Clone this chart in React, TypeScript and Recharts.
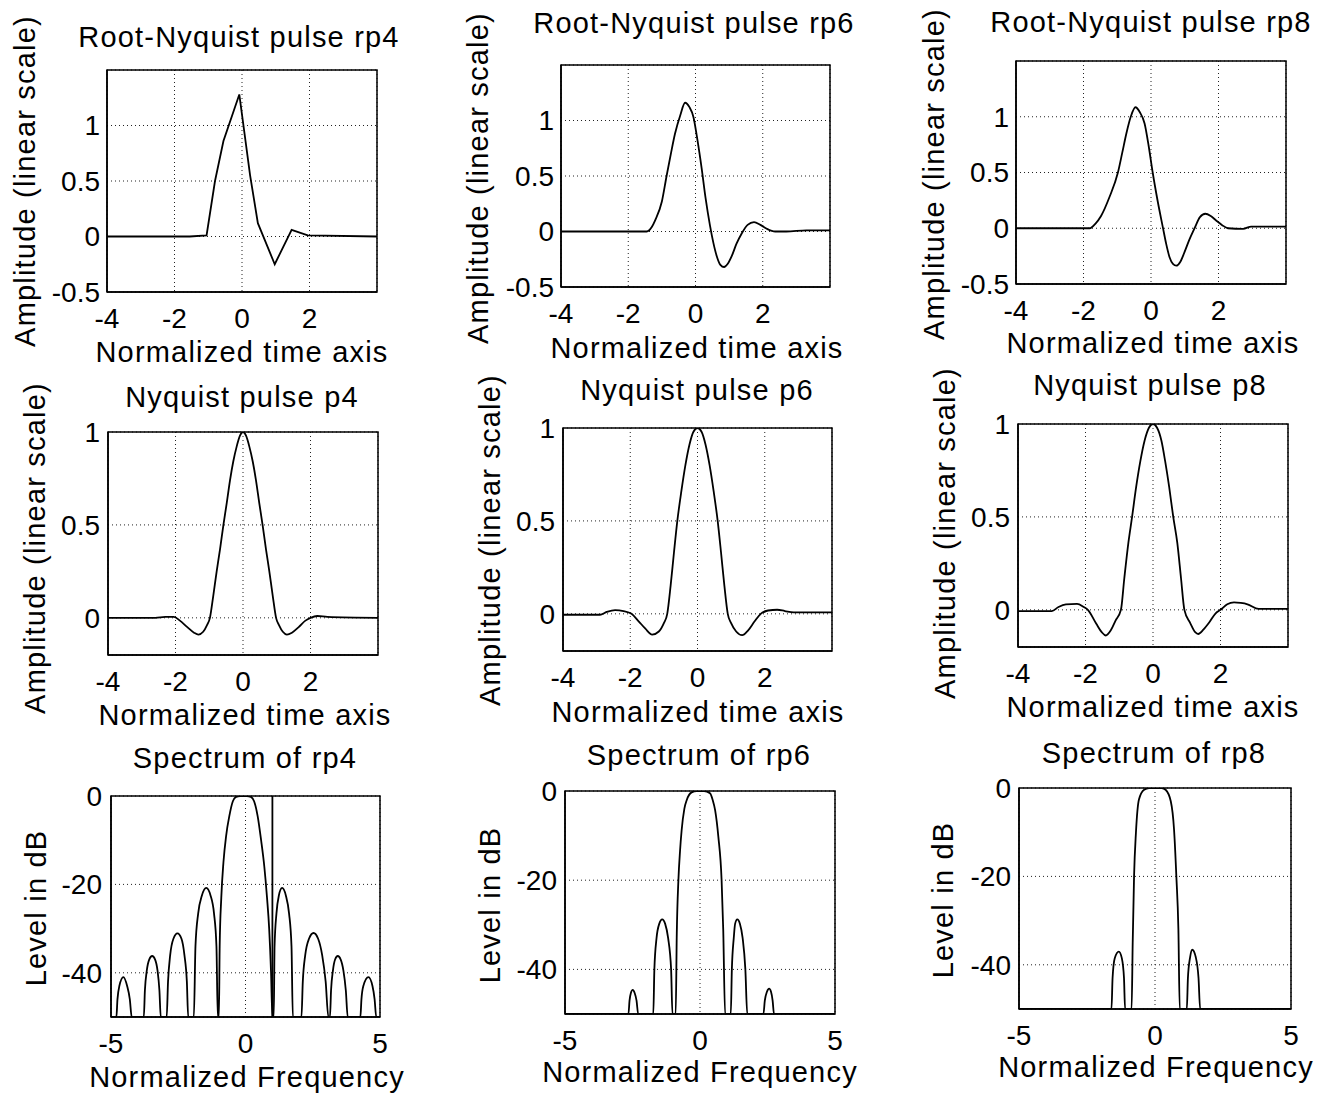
import React from 'react';
import { LineChart, Line, XAxis, YAxis, CartesianGrid, ReferenceArea } from 'recharts';

const FONT = '"Liberation Sans", Arial, Helvetica, sans-serif';

// ---------- tick labels ----------
const timeTicks = [-4, -2, 0, 2];
const rootAmpTicks = [-0.5, 0, 0.5, 1];
const nyqAmpTicks = [0, 0.5, 1];
const freqTicks = [-5, 0, 5];
const dbTicks = [-40, -20, 0];

// ---------- texts ----------
const titles = [
  'Root-Nyquist pulse rp4', 'Root-Nyquist pulse rp6', 'Root-Nyquist pulse rp8',
  'Nyquist pulse p4', 'Nyquist pulse p6', 'Nyquist pulse p8',
  'Spectrum of rp4', 'Spectrum of rp6', 'Spectrum of rp8',
];
const timeLabel = 'Normalized time axis';
const freqLabel = 'Normalized Frequency';
const ampLabel = 'Amplitude (linear scale)';
const dbLabel = 'Level in dB';

// ---------- series values [x, y] ----------
const rp4Pulse = [[-4, 0], [-1.55, 0], [-1.05, 0.01], [-0.8, 0.5], [-0.55, 0.86], [-0.08, 1.28], [0.24, 0.55], [0.47, 0.12], [0.97, -0.25], [1.47, 0.06], [1.95, 0.01], [4, 0]];
const rp6Pulse = [[-4, 0], [-1.45, 0], [-1.3, 0.04], [-1.2, 0.1], [-1.0, 0.27], [-0.86, 0.5], [-0.72, 0.72], [-0.61, 0.88], [-0.45, 1.05], [-0.31, 1.16], [-0.18, 1.12], [-0.06, 1.03], [0.06, 0.82], [0.18, 0.575], [0.3, 0.3], [0.43, 0.055], [0.53, -0.1], [0.63, -0.22], [0.74, -0.3], [0.85, -0.32], [0.96, -0.29], [1.08, -0.22], [1.22, -0.11], [1.37, -0.02], [1.55, 0.06], [1.74, 0.085], [1.93, 0.06], [2.12, 0.025], [2.37, 0.0], [2.7, 0.0], [3.3, 0.01], [4, 0.01]];
const rp8Pulse = [[-4, 0], [-1.82, 0], [-1.65, 0.04], [-1.48, 0.11], [-1.23, 0.28], [-0.98, 0.5], [-0.85, 0.68], [-0.73, 0.85], [-0.6, 1.0], [-0.46, 1.085], [-0.33, 1.04], [-0.19, 0.94], [-0.07, 0.74], [0.05, 0.5], [0.2, 0.24], [0.35, 0.01], [0.45, -0.14], [0.55, -0.26], [0.65, -0.32], [0.75, -0.336], [0.87, -0.3], [0.99, -0.216], [1.14, -0.1], [1.29, 0], [1.45, 0.1], [1.61, 0.13], [1.77, 0.11], [1.93, 0.07], [2.1, 0.03], [2.28, 0], [2.73, -0.005], [2.97, 0.015], [4, 0.015]];

const p4Pulse = [[-4, 0], [-2.6, 0], [-2.3, 0.005], [-2.05, 0.005], [-1.87, -0.015], [-1.65, -0.05], [-1.45, -0.08], [-1.32, -0.09], [-1.18, -0.075], [-1.07, -0.04], [-0.98, 0], [-0.88, 0.12], [-0.78, 0.25], [-0.68, 0.37], [-0.58, 0.5], [-0.48, 0.62], [-0.385, 0.74], [-0.29, 0.84], [-0.19, 0.92], [-0.09, 0.98], [0, 1], [0.09, 0.98], [0.19, 0.92], [0.29, 0.84], [0.385, 0.74], [0.48, 0.62], [0.58, 0.5], [0.68, 0.37], [0.78, 0.25], [0.88, 0.12], [0.98, 0], [1.07, -0.04], [1.18, -0.075], [1.3, -0.09], [1.45, -0.08], [1.65, -0.05], [1.85, -0.015], [2.0, 0], [2.2, 0.01], [2.5, 0.005], [4, 0]];
const p6Pulse = [[-4, -0.005], [-2.9, -0.005], [-2.7, 0.01], [-2.45, 0.02], [-2.2, 0.015], [-1.96, 0], [-1.75, -0.04], [-1.55, -0.08], [-1.35, -0.112], [-1.15, -0.095], [-1.0, -0.05], [-0.9, 0], [-0.8, 0.15], [-0.7, 0.33], [-0.6, 0.5], [-0.48, 0.66], [-0.36, 0.8], [-0.24, 0.91], [-0.12, 0.98], [0, 1], [0.12, 0.98], [0.24, 0.91], [0.36, 0.8], [0.48, 0.66], [0.6, 0.5], [0.7, 0.33], [0.8, 0.15], [0.9, 0], [1.0, -0.05], [1.15, -0.095], [1.33, -0.115], [1.5, -0.09], [1.7, -0.04], [1.88, 0], [2.1, 0.018], [2.37, 0.022], [2.6, 0.015], [2.86, 0.008], [4, 0.008]];
const p8Pulse = [[-4, -0.007], [-3.0, -0.007], [-2.8, 0.015], [-2.58, 0.029], [-2.25, 0.032], [-2.05, 0.015], [-1.93, 0], [-1.68, -0.075], [-1.52, -0.12], [-1.4, -0.138], [-1.25, -0.11], [-1.11, -0.058], [-0.95, 0], [-0.85, 0.17], [-0.73, 0.36], [-0.62, 0.5], [-0.5, 0.66], [-0.375, 0.8], [-0.25, 0.91], [-0.12, 0.98], [0, 1], [0.12, 0.98], [0.25, 0.91], [0.36, 0.8], [0.48, 0.66], [0.6, 0.5], [0.72, 0.36], [0.83, 0.17], [0.93, 0], [1.1, -0.07], [1.25, -0.12], [1.34, -0.13], [1.5, -0.105], [1.67, -0.067], [1.85, -0.02], [2.0, 0], [2.2, 0.03], [2.4, 0.04], [2.6, 0.037], [2.8, 0.03], [3.13, 0.005], [4, 0.005]];

const rp4Spectrum = [
  [-5, -50], [-4.8, -50], [-4.76, -46], [-4.69, -43], [-4.54, -41], [-4.4, -43], [-4.3, -46], [-4.23, -50],
  [-3.78, -50], [-3.74, -44], [-3.67, -39.5], [-3.58, -37], [-3.47, -36.2], [-3.36, -37], [-3.27, -39.5], [-3.2, -44], [-3.15, -50],
  [-2.93, -50], [-2.88, -42], [-2.8, -36], [-2.68, -32.3], [-2.53, -31.1], [-2.38, -32.3], [-2.27, -36], [-2.18, -42], [-2.13, -50],
  [-1.92, -50], [-1.86, -34], [-1.76, -26.6], [-1.62, -22.5], [-1.46, -20.8], [-1.3, -22.5], [-1.17, -26.6], [-1.08, -34], [-1.03, -50],
  [-0.99, -50], [-0.96, -34], [-0.9, -23], [-0.82, -15], [-0.72, -9], [-0.6, -4.5], [-0.47, -1.2], [-0.35, -0.2], [-0.2, 0], [0.05, 0], [0.2, -0.2], [0.32, -1.2], [0.45, -4.5], [0.58, -10], [0.7, -16], [0.8, -23], [0.88, -30], [0.95, -40], [1.0, -50],
  [1.05, -50], [1.08, -34], [1.15, -26.6], [1.24, -22.5], [1.36, -20.8], [1.5, -22.5], [1.62, -26.6], [1.71, -34], [1.76, -50],
  [2.08, -50], [2.13, -42], [2.22, -36], [2.36, -32.3], [2.53, -31], [2.7, -32.3], [2.85, -36], [2.98, -42], [3.08, -50],
  [3.14, -50], [3.18, -44], [3.25, -39.5], [3.33, -37], [3.43, -36.2], [3.54, -37], [3.64, -39.5], [3.73, -44], [3.8, -50],
  [4.27, -50], [4.31, -46], [4.38, -43], [4.57, -41], [4.72, -43], [4.8, -46], [4.86, -50], [5, -50],
];
const rp4SpectrumSpike = [[1.0, -50], [1.0, 0]];
const rp6Spectrum = [
  [-5, -50], [-2.65, -50], [-2.61, -47], [-2.56, -45.3], [-2.49, -44.6], [-2.42, -45.3], [-2.35, -47], [-2.29, -50],
  [-1.73, -50], [-1.69, -40], [-1.61, -33], [-1.51, -29.8], [-1.4, -28.8], [-1.29, -29.8], [-1.18, -33], [-1.07, -40], [-1.02, -50],
  [-0.9, -50], [-0.86, -32], [-0.8, -20], [-0.74, -13.5], [-0.68, -8.8], [-0.58, -4], [-0.49, -2], [-0.31, -0.3], [-0.12, 0], [0.15, 0], [0.37, -0.5], [0.47, -2], [0.56, -4.3], [0.68, -10.3], [0.8, -20], [0.86, -31], [0.93, -50],
  [1.14, -50], [1.18, -40], [1.25, -33], [1.3, -29.8], [1.38, -28.8], [1.48, -29.8], [1.58, -33], [1.68, -40], [1.75, -50],
  [2.35, -50], [2.4, -47], [2.48, -45], [2.56, -44.3], [2.63, -45], [2.69, -47], [2.74, -50], [5, -50],
];
const rp8Spectrum = [
  [-5, -50], [-1.6, -50], [-1.56, -43], [-1.48, -38.5], [-1.33, -37], [-1.22, -38.5], [-1.14, -43], [-1.1, -50],
  [-0.86, -50], [-0.82, -35], [-0.77, -20], [-0.7, -10], [-0.59, -2.6], [-0.4, -0.4], [-0.22, 0], [0.25, 0], [0.39, -0.4], [0.58, -3], [0.7, -9.4], [0.785, -20], [0.86, -32], [0.91, -50],
  [1.17, -50], [1.21, -43], [1.29, -38.3], [1.37, -36.6], [1.5, -38.3], [1.6, -43], [1.66, -50], [5, -50],
];

const rows = (pts: number[][]) => pts.map(([x, y]) => ({ x, y }));

type PanelDef = {
  L: number; T: number; W: number; H: number;
  title: string; xlabel: string; ylabel: string;
  tx: number; ty: number; lx: number; ly: number; yx: number; yy: number;
  xDomain: [number, number]; yDomain: [number, number];
  xTicks: number[]; yTicks: number[];
  series: number[][][]; curve: 'linear' | 'monotone';
  yTickGap: number;
};

const panels: PanelDef[] = [
  { L: 107, T: 70, W: 270, H: 222, title: titles[0], xlabel: timeLabel, ylabel: ampLabel, tx: 239, ty: 47, lx: 242, ly: 362, yx: 25, yy: 181, xDomain: [-4, 4], yDomain: [-0.5, 1.5], xTicks: timeTicks, yTicks: rootAmpTicks, series: [rp4Pulse], curve: 'linear', yTickGap: 7 },
  { L: 561, T: 65, W: 269, H: 222, title: titles[1], xlabel: timeLabel, ylabel: ampLabel, tx: 694, ty: 33, lx: 697, ly: 358, yx: 478, yy: 178, xDomain: [-4, 4], yDomain: [-0.5, 1.5], xTicks: timeTicks, yTicks: rootAmpTicks, series: [rp6Pulse], curve: 'monotone', yTickGap: 7 },
  { L: 1016, T: 61, W: 270, H: 223, title: titles[2], xlabel: timeLabel, ylabel: ampLabel, tx: 1151, ty: 32, lx: 1153, ly: 353, yx: 934, yy: 174, xDomain: [-4, 4], yDomain: [-0.5, 1.5], xTicks: timeTicks, yTicks: rootAmpTicks, series: [rp8Pulse], curve: 'monotone', yTickGap: 7 },
  { L: 108, T: 432, W: 270, H: 223, title: titles[3], xlabel: timeLabel, ylabel: ampLabel, tx: 242, ty: 407, lx: 245, ly: 725, yx: 35, yy: 548, xDomain: [-4, 4], yDomain: [-0.2, 1], xTicks: timeTicks, yTicks: nyqAmpTicks, series: [p4Pulse], curve: 'monotone', yTickGap: 8 },
  { L: 563, T: 428, W: 269, H: 223, title: titles[4], xlabel: timeLabel, ylabel: ampLabel, tx: 697, ty: 400, lx: 698, ly: 722, yx: 490, yy: 540, xDomain: [-4, 4], yDomain: [-0.2, 1], xTicks: timeTicks, yTicks: nyqAmpTicks, series: [p6Pulse], curve: 'monotone', yTickGap: 8 },
  { L: 1018, T: 424, W: 270, H: 223, title: titles[5], xlabel: timeLabel, ylabel: ampLabel, tx: 1150, ty: 395, lx: 1153, ly: 717, yx: 945, yy: 533, xDomain: [-4, 4], yDomain: [-0.2, 1], xTicks: timeTicks, yTicks: nyqAmpTicks, series: [p8Pulse], curve: 'monotone', yTickGap: 8 },
  { L: 111, T: 796, W: 269, H: 221, title: titles[6], xlabel: freqLabel, ylabel: dbLabel, tx: 245, ty: 768, lx: 247, ly: 1087, yx: 36, yy: 908, xDomain: [-5, 5], yDomain: [-50, 0], xTicks: freqTicks, yTicks: dbTicks, series: [rp4Spectrum, rp4SpectrumSpike], curve: 'monotone', yTickGap: 9 },
  { L: 565, T: 791, W: 270, H: 223, title: titles[7], xlabel: freqLabel, ylabel: dbLabel, tx: 699, ty: 765, lx: 700, ly: 1082, yx: 490, yy: 905, xDomain: [-5, 5], yDomain: [-50, 0], xTicks: freqTicks, yTicks: dbTicks, series: [rp6Spectrum], curve: 'monotone', yTickGap: 8 },
  { L: 1019, T: 788, W: 272, H: 221, title: titles[8], xlabel: freqLabel, ylabel: dbLabel, tx: 1154, ty: 763, lx: 1156, ly: 1077, yx: 943, yy: 900, xDomain: [-5, 5], yDomain: [-50, 0], xTicks: freqTicks, yTicks: dbTicks, series: [rp8Spectrum], curve: 'monotone', yTickGap: 8 },
];

const ML = 100, MT = 30, MR = 10, MB = 50;
const tickStyle = { fontSize: 28, fill: '#000', fontFamily: FONT };
const border = { stroke: '#000', strokeWidth: 1.5 };

function Panel({ p }: { p: PanelDef }) {
  const main = rows(p.series[0]);
  return (
    <div style={{ position: 'absolute', left: p.L - ML, top: p.T - MT }}>
      <LineChart width={p.W + ML + MR} height={p.H + MT + MB} data={main} margin={{ top: MT, right: MR, bottom: 0, left: 0 }}>
        <CartesianGrid stroke="#222" strokeDasharray="1 3" strokeWidth={1} />
        <XAxis dataKey="x" type="number" domain={p.xDomain} ticks={p.xTicks} allowDataOverflow interval={0}
          height={MB} tickLine={false} tickSize={8} tickMargin={8} axisLine={border} tick={tickStyle} />
        <YAxis type="number" domain={p.yDomain} ticks={p.yTicks} allowDataOverflow interval={0} width={ML}
          tickLine={false} tickSize={p.yTickGap - 2} tickMargin={2} axisLine={border} tick={tickStyle} />
        <ReferenceArea x1={p.xDomain[0]} x2={p.xDomain[1]} y1={p.yDomain[0]} y2={p.yDomain[1]}
          fill="none" fillOpacity={0} stroke="#000" strokeWidth={1.5} ifOverflow="visible" />
        {p.series.map((s, i) => (
          <Line key={i} data={i === 0 ? undefined : rows(s)} dataKey="y" type={i === 0 ? p.curve : 'linear'}
            stroke="#000" strokeWidth={1.8} dot={false} activeDot={false} isAnimationActive={false} />
        ))}
      </LineChart>
    </div>
  );
}

export default function App() {
  const labelStyle = { fontSize: 29, fontFamily: FONT, fill: '#000', letterSpacing: 1.2 } as const;
  return (
    <div style={{ position: 'absolute', left: 0, top: 0, width: 1329, height: 1097, background: '#fff' }}>
      {panels.map((p, i) => <Panel key={i} p={p} />)}
      <svg width={1329} height={1097} style={{ position: 'absolute', left: 0, top: 0, pointerEvents: 'none' }}>
        {panels.map((p, i) => (
          <g key={i}>
            <text x={p.tx} y={p.ty} textAnchor="middle" style={labelStyle}>{p.title}</text>
            <text x={p.lx} y={p.ly} textAnchor="middle" style={labelStyle}>{p.xlabel}</text>
            <text x={p.yx} y={p.yy} textAnchor="middle" dominantBaseline="central"
              transform={`rotate(-90 ${p.yx} ${p.yy})`} style={labelStyle}>{p.ylabel}</text>
          </g>
        ))}
      </svg>
    </div>
  );
}
